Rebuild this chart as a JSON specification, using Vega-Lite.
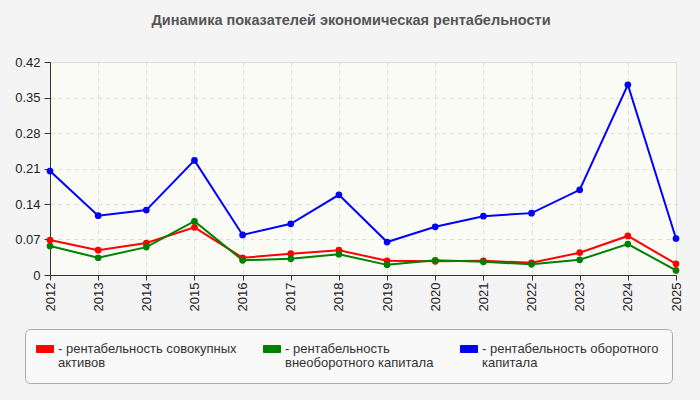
{
  "$schema": "https://vega.github.io/schema/vega-lite/v6.json",
  "width": 626,
  "height": 213,
  "autosize": {"type": "none"},
  "padding": {"left": 50, "top": 62, "right": 24, "bottom": 125},
  "background": "#f4f4f4",
  "title": {
    "text": "Динамика показателей экономическая рентабельности",
    "fontSize": 14.5,
    "fontWeight": "bold",
    "color": "#555555",
    "font": "Liberation Sans",
    "anchor": "middle",
    "offset": 28,
    "dx": -12
  },
  "config": {
    "font": "Liberation Sans",
    "view": {"stroke": "#dddddd", "fill": "#fbfbf5"},
    "axis": {
      "labelFont": "Liberation Sans",
      "labelFontSize": 13,
      "labelColor": "#222222",
      "domainColor": "#333333",
      "tickColor": "#333333",
      "gridColor": "#dddddd",
      "gridDash": [4, 4],
      "title": null
    }
  },
  "data": {
    "values": [
      {"series": "рентабельность совокупных активов", "year": 2012, "value": 0.069},
      {"series": "рентабельность совокупных активов", "year": 2013, "value": 0.049},
      {"series": "рентабельность совокупных активов", "year": 2014, "value": 0.063},
      {"series": "рентабельность совокупных активов", "year": 2015, "value": 0.094},
      {"series": "рентабельность совокупных активов", "year": 2016, "value": 0.034},
      {"series": "рентабельность совокупных активов", "year": 2017, "value": 0.042},
      {"series": "рентабельность совокупных активов", "year": 2018, "value": 0.049},
      {"series": "рентабельность совокупных активов", "year": 2019, "value": 0.028},
      {"series": "рентабельность совокупных активов", "year": 2020, "value": 0.027},
      {"series": "рентабельность совокупных активов", "year": 2021, "value": 0.028},
      {"series": "рентабельность совокупных активов", "year": 2022, "value": 0.024},
      {"series": "рентабельность совокупных активов", "year": 2023, "value": 0.044},
      {"series": "рентабельность совокупных активов", "year": 2024, "value": 0.077},
      {"series": "рентабельность совокупных активов", "year": 2025, "value": 0.022},
      {"series": "рентабельность внеоборотного капитала", "year": 2012, "value": 0.057},
      {"series": "рентабельность внеоборотного капитала", "year": 2013, "value": 0.034},
      {"series": "рентабельность внеоборотного капитала", "year": 2014, "value": 0.055},
      {"series": "рентабельность внеоборотного капитала", "year": 2015, "value": 0.106},
      {"series": "рентабельность внеоборотного капитала", "year": 2016, "value": 0.029},
      {"series": "рентабельность внеоборотного капитала", "year": 2017, "value": 0.032},
      {"series": "рентабельность внеоборотного капитала", "year": 2018, "value": 0.041},
      {"series": "рентабельность внеоборотного капитала", "year": 2019, "value": 0.020},
      {"series": "рентабельность внеоборотного капитала", "year": 2020, "value": 0.029},
      {"series": "рентабельность внеоборотного капитала", "year": 2021, "value": 0.026},
      {"series": "рентабельность внеоборотного капитала", "year": 2022, "value": 0.021},
      {"series": "рентабельность внеоборотного капитала", "year": 2023, "value": 0.030},
      {"series": "рентабельность внеоборотного капитала", "year": 2024, "value": 0.061},
      {"series": "рентабельность внеоборотного капитала", "year": 2025, "value": 0.009},
      {"series": "рентабельность оборотного капитала", "year": 2012, "value": 0.205},
      {"series": "рентабельность оборотного капитала", "year": 2013, "value": 0.117},
      {"series": "рентабельность оборотного капитала", "year": 2014, "value": 0.128},
      {"series": "рентабельность оборотного капитала", "year": 2015, "value": 0.226},
      {"series": "рентабельность оборотного капитала", "year": 2016, "value": 0.079},
      {"series": "рентабельность оборотного капитала", "year": 2017, "value": 0.101},
      {"series": "рентабельность оборотного капитала", "year": 2018, "value": 0.158},
      {"series": "рентабельность оборотного капитала", "year": 2019, "value": 0.065},
      {"series": "рентабельность оборотного капитала", "year": 2020, "value": 0.095},
      {"series": "рентабельность оборотного капитала", "year": 2021, "value": 0.116},
      {"series": "рентабельность оборотного капитала", "year": 2022, "value": 0.122},
      {"series": "рентабельность оборотного капитала", "year": 2023, "value": 0.168},
      {"series": "рентабельность оборотного капитала", "year": 2024, "value": 0.375},
      {"series": "рентабельность оборотного капитала", "year": 2025, "value": 0.072}
    ]
  },
  "mark": {"type": "line", "strokeWidth": 2, "point": {"filled": true, "size": 45}},
  "encoding": {
    "x": {
      "field": "year",
      "type": "ordinal",
      "scale": {"type": "point", "padding": 0},
      "axis": {"labelAngle": 270, "tickSize": 5, "labelPadding": 2, "grid": true, "title": null}
    },
    "y": {
      "field": "value",
      "type": "quantitative",
      "scale": {"domain": [0, 0.42], "nice": false, "zero": true},
      "axis": {
        "values": [0, 0.07, 0.14, 0.21, 0.28, 0.35, 0.42],
        "format": ".2~f",
        "tickSize": 6,
        "labelPadding": 4,
        "grid": true,
        "title": null
      }
    },
    "color": {
      "field": "series",
      "type": "nominal",
      "sort": null,
      "scale": {
        "domain": ["рентабельность совокупных активов", "рентабельность внеоборотного капитала", "рентабельность оборотного капитала"],
        "range": ["#ff0000", "#008000", "#0000ff"]
      },
      "legend": {
        "title": null,
        "orient": "none",
        "legendX": -25,
        "legendY": 267,
        "direction": "horizontal",
        "columns": 3,
        "columnPadding": 24,
        "padding": 13,
        "fillColor": "#f9f9f9",
        "strokeColor": "#aaaaaa",
        "cornerRadius": 5,
        "symbolType": "M-1.31,-0.54 L1.31,-0.54 L1.31,0.54 L-1.31,0.54 Z",
        "symbolSize": 169,
        "symbolStrokeColor": "#888888",
        "symbolStrokeWidth": 1,
        "symbolOpacity": 1,
        "labelFont": "Liberation Sans",
        "labelFontSize": 13,
        "labelColor": "#333333",
        "labelBaseline": "middle",
        "labelOffset": 6,
        "labelLimit": 300,
        "labelExpr": "datum.label == 'рентабельность совокупных активов' ? ['- рентабельность совокупных', '  активов'] : datum.label == 'рентабельность внеоборотного капитала' ? ['- рентабельность', '  внеоборотного капитала'] : ['- рентабельность оборотного', '  капитала']",
        "encode": {
          "labels": {"update": {"lineHeight": {"value": 14}}}
        }
      }
    }
  }
}
